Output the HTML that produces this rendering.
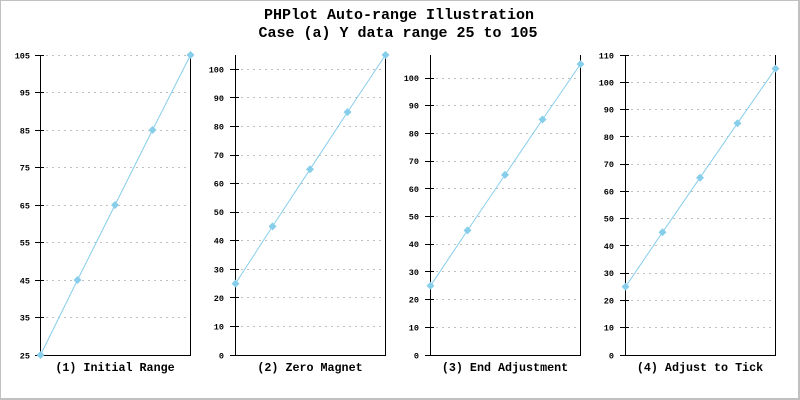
<!DOCTYPE html>
<html><head><meta charset="utf-8"><style>
html,body{margin:0;padding:0;background:#fff;}
svg{display:block;}
.t{font-family:"Liberation Mono",monospace;font-weight:bold;fill:#000;}
.tl{font-family:"Liberation Mono",monospace;font-size:8.5px;font-weight:bold;fill:#000;text-anchor:end;}
.st{font-family:"Liberation Mono",monospace;font-size:11.7px;font-weight:bold;fill:#000;text-anchor:middle;}
.g{stroke:#c0c0c0;stroke-width:1;stroke-dasharray:2 4;fill:none;shape-rendering:crispEdges;}
.ax{stroke:#000;stroke-width:1;fill:none;shape-rendering:crispEdges;}
.tk{shape-rendering:crispEdges;}
.d{stroke:#87ceeb;stroke-width:1;fill:none;}
.m{fill:#87ceeb;}
</style></head><body>
<svg width="800" height="400" viewBox="0 0 800 400" xmlns="http://www.w3.org/2000/svg">
<rect x="0" y="0" width="800" height="400" fill="#fff"/>
<line x1="0" y1="0.5" x2="800" y2="0.5" stroke="#c0c0c0"/>
<line x1="0.5" y1="0" x2="0.5" y2="400" stroke="#c0c0c0"/>
<line x1="0" y1="399" x2="800" y2="399" stroke="#c0c0c0" stroke-width="2"/>
<line x1="799" y1="0" x2="799" y2="400" stroke="#c0c0c0" stroke-width="2"/>

<text class="t" x="399" y="19" font-size="15" text-anchor="middle">PHPlot Auto-range Illustration</text>
<text class="t" x="398" y="37" font-size="15" text-anchor="middle">Case (a) Y data range 25 to 105</text>

<!-- Panel 1 -->
<g>
<line class="g" x1="46" y1="55.5" x2="190" y2="55.5"/>
<line class="g" x1="46" y1="92.5" x2="190" y2="92.5"/>
<line class="g" x1="46" y1="130.5" x2="190" y2="130.5"/>
<line class="g" x1="46" y1="167.5" x2="190" y2="167.5"/>
<line class="g" x1="46" y1="205.5" x2="190" y2="205.5"/>
<line class="g" x1="46" y1="242.5" x2="190" y2="242.5"/>
<line class="g" x1="46" y1="280.5" x2="190" y2="280.5"/>
<line class="g" x1="46" y1="317.5" x2="190" y2="317.5"/>
<polyline class="ax" points="40.5,55 40.5,355.5 190.5,355.5 190.5,55"/>
<g stroke="#000" class="tk">
<line x1="35" y1="55.5" x2="44" y2="55.5"/><line x1="35" y1="92.5" x2="44" y2="92.5"/>
<line x1="35" y1="130.5" x2="44" y2="130.5"/><line x1="35" y1="167.5" x2="44" y2="167.5"/>
<line x1="35" y1="205.5" x2="44" y2="205.5"/><line x1="35" y1="242.5" x2="44" y2="242.5"/>
<line x1="35" y1="280.5" x2="44" y2="280.5"/><line x1="35" y1="317.5" x2="44" y2="317.5"/>
<line x1="35" y1="355.5" x2="44" y2="355.5"/>
</g>
<text class="tl" x="30" y="58.5">105</text><text class="tl" x="30" y="95.5">95</text>
<text class="tl" x="30" y="133.5">85</text><text class="tl" x="30" y="170.5">75</text>
<text class="tl" x="30" y="208.5">65</text><text class="tl" x="30" y="245.5">55</text>
<text class="tl" x="30" y="283.5">45</text><text class="tl" x="30" y="320.5">35</text>
<text class="tl" x="30" y="358.5">25</text>
<polyline class="d" points="40.5,355 77.5,280 115,205 152.5,130 190.5,55"/>
<g class="m">
<polygon points="40.5,351 44.5,355 40.5,359 36.5,355"/>
<polygon points="77.5,276 81.5,280 77.5,284 73.5,280"/>
<polygon points="115,201 119,205 115,209 111,205"/>
<polygon points="152.5,126 156.5,130 152.5,134 148.5,130"/>
<polygon points="190.5,51 194.5,55 190.5,59 186.5,55"/>
</g>
<text class="st" x="115" y="371">(1) Initial Range</text>
</g>

<!-- Panel 2 -->
<g>
<line class="g" x1="241" y1="69.5" x2="385" y2="69.5"/>
<line class="g" x1="241" y1="97.5" x2="385" y2="97.5"/>
<line class="g" x1="241" y1="126.5" x2="385" y2="126.5"/>
<line class="g" x1="241" y1="155.5" x2="385" y2="155.5"/>
<line class="g" x1="241" y1="183.5" x2="385" y2="183.5"/>
<line class="g" x1="241" y1="212.5" x2="385" y2="212.5"/>
<line class="g" x1="241" y1="240.5" x2="385" y2="240.5"/>
<line class="g" x1="241" y1="269.5" x2="385" y2="269.5"/>
<line class="g" x1="241" y1="297.5" x2="385" y2="297.5"/>
<line class="g" x1="241" y1="326.5" x2="385" y2="326.5"/>
<polyline class="ax" points="235.5,55 235.5,355.5 385.5,355.5 385.5,55"/>
<g stroke="#000" class="tk">
<line x1="230" y1="69.5" x2="239" y2="69.5"/><line x1="230" y1="97.5" x2="239" y2="97.5"/>
<line x1="230" y1="126.5" x2="239" y2="126.5"/><line x1="230" y1="155.5" x2="239" y2="155.5"/>
<line x1="230" y1="183.5" x2="239" y2="183.5"/><line x1="230" y1="212.5" x2="239" y2="212.5"/>
<line x1="230" y1="240.5" x2="239" y2="240.5"/><line x1="230" y1="269.5" x2="239" y2="269.5"/>
<line x1="230" y1="297.5" x2="239" y2="297.5"/><line x1="230" y1="326.5" x2="239" y2="326.5"/>
<line x1="230" y1="355.5" x2="239" y2="355.5"/>
</g>
<text class="tl" x="224" y="72.3">100</text><text class="tl" x="224" y="100.9">90</text>
<text class="tl" x="224" y="129.4">80</text><text class="tl" x="224" y="158">70</text>
<text class="tl" x="224" y="186.6">60</text><text class="tl" x="224" y="215.1">50</text>
<text class="tl" x="224" y="243.7">40</text><text class="tl" x="224" y="272.3">30</text>
<text class="tl" x="224" y="300.9">20</text><text class="tl" x="224" y="329.4">10</text>
<text class="tl" x="224" y="358.5">0</text>
<polyline class="d" points="235.5,283.6 272.5,226.4 310,169.3 347.5,112.1 385.5,55"/>
<g class="m">
<polygon points="235.5,279.6 239.5,283.6 235.5,287.6 231.5,283.6"/>
<polygon points="272.5,222.4 276.5,226.4 272.5,230.4 268.5,226.4"/>
<polygon points="310,165.3 314,169.3 310,173.3 306,169.3"/>
<polygon points="347.5,108.1 351.5,112.1 347.5,116.1 343.5,112.1"/>
<polygon points="385.5,51 389.5,55 385.5,59 381.5,55"/>
</g>
<text class="st" x="310" y="371">(2) Zero Magnet</text>
</g>

<!-- Panel 3 -->
<g>
<line class="g" x1="436" y1="78.5" x2="580" y2="78.5"/>
<line class="g" x1="436" y1="105.5" x2="580" y2="105.5"/>
<line class="g" x1="436" y1="133.5" x2="580" y2="133.5"/>
<line class="g" x1="436" y1="161.5" x2="580" y2="161.5"/>
<line class="g" x1="436" y1="188.5" x2="580" y2="188.5"/>
<line class="g" x1="436" y1="216.5" x2="580" y2="216.5"/>
<line class="g" x1="436" y1="244.5" x2="580" y2="244.5"/>
<line class="g" x1="436" y1="271.5" x2="580" y2="271.5"/>
<line class="g" x1="436" y1="299.5" x2="580" y2="299.5"/>
<line class="g" x1="436" y1="327.5" x2="580" y2="327.5"/>
<polyline class="ax" points="430.5,55 430.5,355.5 580.5,355.5 580.5,55"/>
<g stroke="#000" class="tk">
<line x1="425" y1="78.5" x2="434" y2="78.5"/><line x1="425" y1="105.5" x2="434" y2="105.5"/>
<line x1="425" y1="133.5" x2="434" y2="133.5"/><line x1="425" y1="161.5" x2="434" y2="161.5"/>
<line x1="425" y1="188.5" x2="434" y2="188.5"/><line x1="425" y1="216.5" x2="434" y2="216.5"/>
<line x1="425" y1="244.5" x2="434" y2="244.5"/><line x1="425" y1="271.5" x2="434" y2="271.5"/>
<line x1="425" y1="299.5" x2="434" y2="299.5"/><line x1="425" y1="327.5" x2="434" y2="327.5"/>
<line x1="425" y1="355.5" x2="434" y2="355.5"/>
</g>
<text class="tl" x="419" y="81">100</text><text class="tl" x="419" y="108.7">90</text>
<text class="tl" x="419" y="136.4">80</text><text class="tl" x="419" y="164.1">70</text>
<text class="tl" x="419" y="191.8">60</text><text class="tl" x="419" y="219.5">50</text>
<text class="tl" x="419" y="247.2">40</text><text class="tl" x="419" y="274.9">30</text>
<text class="tl" x="419" y="302.6">20</text><text class="tl" x="419" y="330.3">10</text>
<text class="tl" x="419" y="358.5">0</text>
<polyline class="d" points="430.5,285.8 467.5,230.4 505,174.9 542.5,119.5 580.5,64.1"/>
<g class="m">
<polygon points="430.5,281.8 434.5,285.8 430.5,289.8 426.5,285.8"/>
<polygon points="467.5,226.4 471.5,230.4 467.5,234.4 463.5,230.4"/>
<polygon points="505,170.9 509,174.9 505,178.9 501,174.9"/>
<polygon points="542.5,115.5 546.5,119.5 542.5,123.5 538.5,119.5"/>
<polygon points="580.5,60.1 584.5,64.1 580.5,68.1 576.5,64.1"/>
</g>
<text class="st" x="505" y="371">(3) End Adjustment</text>
</g>

<!-- Panel 4 -->
<g>
<line class="g" x1="631" y1="55.5" x2="775" y2="55.5"/>
<line class="g" x1="631" y1="82.5" x2="775" y2="82.5"/>
<line class="g" x1="631" y1="109.5" x2="775" y2="109.5"/>
<line class="g" x1="631" y1="136.5" x2="775" y2="136.5"/>
<line class="g" x1="631" y1="164.5" x2="775" y2="164.5"/>
<line class="g" x1="631" y1="191.5" x2="775" y2="191.5"/>
<line class="g" x1="631" y1="218.5" x2="775" y2="218.5"/>
<line class="g" x1="631" y1="245.5" x2="775" y2="245.5"/>
<line class="g" x1="631" y1="273.5" x2="775" y2="273.5"/>
<line class="g" x1="631" y1="300.5" x2="775" y2="300.5"/>
<line class="g" x1="631" y1="327.5" x2="775" y2="327.5"/>
<polyline class="ax" points="625.5,55 625.5,355.5 775.5,355.5 775.5,55"/>
<g stroke="#000" class="tk">
<line x1="620" y1="55.5" x2="629" y2="55.5"/><line x1="620" y1="82.5" x2="629" y2="82.5"/>
<line x1="620" y1="109.5" x2="629" y2="109.5"/><line x1="620" y1="136.5" x2="629" y2="136.5"/>
<line x1="620" y1="164.5" x2="629" y2="164.5"/><line x1="620" y1="191.5" x2="629" y2="191.5"/>
<line x1="620" y1="218.5" x2="629" y2="218.5"/><line x1="620" y1="245.5" x2="629" y2="245.5"/>
<line x1="620" y1="273.5" x2="629" y2="273.5"/><line x1="620" y1="300.5" x2="629" y2="300.5"/>
<line x1="620" y1="327.5" x2="629" y2="327.5"/><line x1="620" y1="355.5" x2="629" y2="355.5"/>
</g>
<text class="tl" x="614" y="58.5">110</text><text class="tl" x="614" y="85.3">100</text>
<text class="tl" x="614" y="112.5">90</text><text class="tl" x="614" y="139.8">80</text>
<text class="tl" x="614" y="167.1">70</text><text class="tl" x="614" y="194.4">60</text>
<text class="tl" x="614" y="221.6">50</text><text class="tl" x="614" y="248.9">40</text>
<text class="tl" x="614" y="276.2">30</text><text class="tl" x="614" y="303.5">20</text>
<text class="tl" x="614" y="330.7">10</text><text class="tl" x="614" y="358.5">0</text>
<polyline class="d" points="625.5,286.8 662.5,232.3 700,177.7 737.5,123.2 775.5,68.6"/>
<g class="m">
<polygon points="625.5,282.8 629.5,286.8 625.5,290.8 621.5,286.8"/>
<polygon points="662.5,228.3 666.5,232.3 662.5,236.3 658.5,232.3"/>
<polygon points="700,173.7 704,177.7 700,181.7 696,177.7"/>
<polygon points="737.5,119.2 741.5,123.2 737.5,127.2 733.5,123.2"/>
<polygon points="775.5,64.6 779.5,68.6 775.5,72.6 771.5,68.6"/>
</g>
<text class="st" x="700" y="371">(4) Adjust to Tick</text>
</g>
</svg>
</body></html>
